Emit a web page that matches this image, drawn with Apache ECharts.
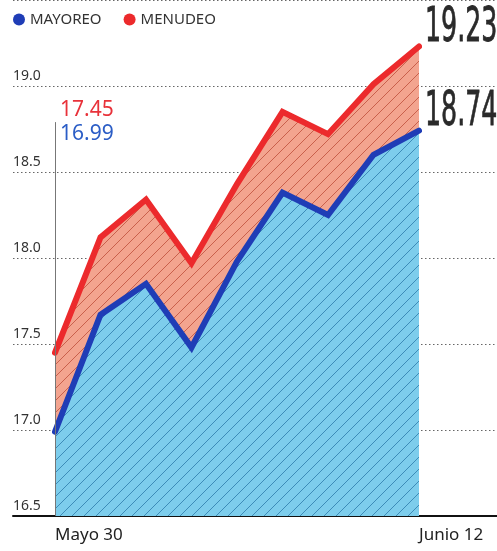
<!DOCTYPE html>
<html><head><meta charset="utf-8">
<script src="https://cdn.jsdelivr.net/npm/echarts@6/dist/echarts.min.js"></script>
<style>html,body{margin:0;padding:0;background:#fff}#c{width:497px;height:551px}</style>
</head><body><div id="c"></div>
<script>
const categories = ['Mayo 30','','','','','','','','Junio 12'];
const menudeo = [17.45, 18.12, 18.34, 17.97, 18.43, 18.85, 18.72, 19.01, 19.23];
const mayoreo = [16.99, 17.67, 17.85, 17.48, 17.98, 18.38, 18.25, 18.60, 18.74];
const yMin = 16.5, yMax = 19.5, yStep = 0.5;
const names = ['MAYOREO', 'MENUDEO'];

function hatch(base, line) {
  const c = document.createElement('canvas'); c.width = 12; c.height = 12;
  const g = c.getContext('2d');
  g.fillStyle = base; g.fillRect(0, 0, 12, 12);
  g.strokeStyle = line; g.lineWidth = 1;
  g.beginPath();
  g.moveTo(-1, 13); g.lineTo(13, -1);
  g.moveTo(-1, 1); g.lineTo(1, -1);
  g.moveTo(11, 13); g.lineTo(13, 11);
  g.stroke();
  return c;
}

const RED = '#ec2a2c', BLUE = '#1f3db6';
const chart = echarts.init(document.getElementById('c'));
const gridTop = -2, gridBottom = 35;
const option = {
  animation: false,
  legend: {
    data: names, left: 8, top: 7, icon: 'circle', itemWidth: 12, itemHeight: 12, itemGap: 22,
    textStyle: { fontFamily: 'Noto Sans', fontSize: 15, color: '#333' }
  },
  grid: [
    { left: 55, right: 78, top: gridTop, bottom: gridBottom },
    { left: 13, right: 0, top: gridTop, bottom: gridBottom }
  ],
  xAxis: [
    { type: 'category', gridIndex: 0, data: categories, boundaryGap: false,
      axisLine: { show: false }, axisTick: { show: false }, splitLine: { show: false },
      axisLabel: { interval: 0, align: 'left', margin: 11, fontFamily: 'Noto Sans', fontSize: 17, color: '#222' } },
    { type: 'value', gridIndex: 1, min: 0, max: 1, axisLabel: { show: false }, axisTick: { show: false },
      splitLine: { show: false }, axisLine: { show: true, lineStyle: { color: '#111', width: 2 } } }
  ],
  yAxis: [
    { type: 'value', gridIndex: 0, min: yMin, max: yMax, interval: yStep, show: false },
    { type: 'value', gridIndex: 1, min: yMin, max: yMax, interval: yStep,
      axisLine: { show: false }, axisTick: { show: false },
      splitLine: { show: true, lineStyle: { color: '#666', width: 1, type: [1.5, 2.5] } },
      axisLabel: { inside: true, showMaxLabel: false, margin: 0, align: 'left', verticalAlign: 'bottom',
        padding: [0, 0, 3, 0], formatter: v => v.toFixed(1),
        fontFamily: 'Noto Sans', fontSize: 14, color: '#333' } }
  ],
  series: [
    { name: 'MENUDEO', type: 'line', xAxisIndex: 0, yAxisIndex: 0, data: menudeo, symbol: 'none',
      color: RED,
      lineStyle: { color: RED, width: 6, join: 'miter', cap: 'round' },
      areaStyle: { origin: 'start', opacity: 1, color: { image: hatch('#f3a48f', '#c9604c'), repeat: 'repeat' } } },
    { name: 'MAYOREO', type: 'line', xAxisIndex: 0, yAxisIndex: 0, data: mayoreo, symbol: 'none',
      color: BLUE,
      lineStyle: { color: BLUE, width: 6, join: 'miter', cap: 'round' },
      areaStyle: { origin: 'start', opacity: 1, color: { image: hatch('#7dcdec', '#3d8cb8'), repeat: 'repeat' } },
      markLine: { silent: true, symbol: 'none', label: { show: false },
        lineStyle: { color: '#777', width: 1, type: 'solid' },
        data: [[{ coord: [0, 18.79] }, { coord: [0, yMin] }]] } }
  ]
};
chart.setOption(option);

const last = categories.length - 1;
const pR = chart.convertToPixel({ xAxisIndex: 0, yAxisIndex: 0 }, [last, menudeo[last]]);
const pB = chart.convertToPixel({ xAxisIndex: 0, yAxisIndex: 0 }, [last, mayoreo[last]]);
const pR0 = chart.convertToPixel({ xAxisIndex: 0, yAxisIndex: 0 }, [0, menudeo[0]]);
const pB0 = chart.convertToPixel({ xAxisIndex: 0, yAxisIndex: 0 }, [0, mayoreo[0]]);
const bigFont = 'normal 48px "DejaVu Sans Condensed", "DejaVu Sans"';
const smallFont = 'normal 21px "Noto Sans"';
const bigStyle = { font: bigFont, fill: '#2a2a2a', stroke: '#2a2a2a', lineWidth: 0.8, textAlign: 'left', textVerticalAlign: 'middle' };
chart.setOption({
  graphic: [
    { type: 'text', x: pR[0] + 6, y: pR[1] - 18, scaleX: 0.585, z: 10,
      style: Object.assign({ text: menudeo[last].toFixed(2) }, bigStyle) },
    { type: 'text', x: pB[0] + 6, y: pB[1] - 18, scaleX: 0.585, z: 10,
      style: Object.assign({ text: mayoreo[last].toFixed(2) }, bigStyle) },
    { type: 'text', x: pR0[0] + 5, y: pR0[1] - 243, z: 10,
      style: { text: menudeo[0].toFixed(2), font: smallFont, fill: '#e8323a', textAlign: 'left', textVerticalAlign: 'middle' } },
    { type: 'text', x: pB0[0] + 5, y: pB0[1] - 298, z: 10,
      style: { text: mayoreo[0].toFixed(2), font: smallFont, fill: '#2b5dc6', textAlign: 'left', textVerticalAlign: 'middle' } }
  ]
});
</script>
</body></html>
